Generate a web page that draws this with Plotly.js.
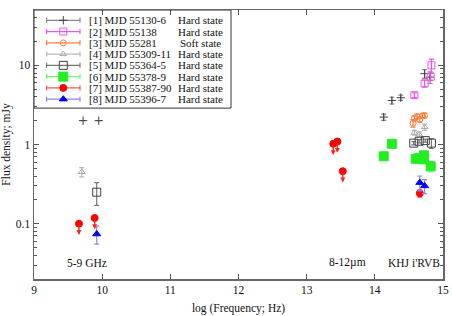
<!DOCTYPE html>
<html><head><meta charset="utf-8">
<script src="https://cdn.plot.ly/plotly-3.0.1.min.js"></script>
<style>html,body{margin:0;padding:0;background:#fff}#chart{width:452px;height:316px}</style>
</head><body><div id="chart"></div>
<script>
// ---- data (log frequency, flux density mJy, error) ----
const names = ["[1] MJD 55130-6","[2] MJD 55138","[3] MJD 55281","[4] MJD 55309-11","[5] MJD 55364-5","[6] MJD 55378-9","[7] MJD 55387-90","[8] MJD 55396-7"];
const states = ["Hard state","Hard state","Soft state","Hard state","Hard state","Hard state","Hard state","Hard state"];

const s1x = [9.72, 9.95, 14.13, 14.25, 14.38, 14.73, 14.81];
const s1y = [2.0, 2.0, 2.22, 3.6, 3.9, 7.85, 7.1];
const s1e = [0, 0, 0.2, 0.35, 0.3, 1.0, 1.2];

const s2x = [14.58, 14.73, 14.82, 14.83];
const s2y = [4.2, 5.9, 7.2, 10.0];
const s2e = [0.3, 0.6, 0.8, 2.0];

const s3x = [14.56, 14.58, 14.62, 14.66, 14.70, 14.73];
const s3y = [1.86, 2.14, 2.26, 2.07, 2.30, 2.33];
const s3e = [0.2, 0.15, 0.15, 0.15, 0.15, 0.15];

const s4x = [9.70, 14.58, 14.65, 14.73];
const s4y = [0.45, 1.41, 1.34, 1.66];
const s4e = [0.06, 0.1, 0.1, 0.15];

const s5x = [9.92, 14.57, 14.65, 14.74, 14.83];
const s5y = [0.25, 1.04, 1.10, 1.12, 1.04];
const s5e = [0.08, 0.05, 0.05, 0.05, 0.15];

const s6x = [14.13, 14.25, 14.60, 14.65, 14.72, 14.72, 14.82];
const s6y = [0.71, 1.02, 0.66, 0.67, 0.73, 0.65, 0.53];
const s6e = [0.04, 0.03, 0.03, 0.03, 0.04, 0.04, 0.08];

const s7x = [9.66, 9.89, 13.39, 13.45, 13.53, 14.66];
const s7y = [0.10, 0.118, 1.02, 1.09, 0.46, 0.242];
const s7e = [0, 0, 0, 0, 0, 0.025];
const s7ul = [1, 1, 1, 1, 1, 0];   // upper limits (arrows)

const s8x = [9.92, 14.66, 14.73];
const s8y = [0.074, 0.33, 0.30];
const s8e = [0.019, 0.07, 0.06];

const bandLabels = ["5-9 GHz", "8-12\u00b5m", "KHJ i'RVB"];
const bandX = [9.78, 13.6, 14.58];
const bandY = [0.032, 0.032, 0.032];

// ---- styles ----
const styles = [
  {sym:"cross-thin-open", size:6, color:"#404040", ecol:"#888888", lw:1},
  {sym:"square-open", size:7, color:"#ee55ee", ecol:"#ee55ee", lw:1},
  {sym:"circle-open", size:6, color:"#ff7f3f", ecol:"#ff7f3f", lw:1},
  {sym:"triangle-up-open", size:6, color:"#aaaaaa", ecol:"#bbbbbb", lw:1},
  {sym:"square-open", size:8, color:"#404040", ecol:"#777777", lw:1},
  {sym:"square", size:9, color:"#22ee22", ecol:"#66ff66", lw:0},
  {sym:"circle", size:7, color:"#ff0000", ecol:"#ff5555", lw:0},
  {sym:"triangle-up", size:7, color:"#0000ff", ecol:"#8888ff", lw:0}
];
const series = [[s1x,s1y,s1e],[s2x,s2y,s2e],[s3x,s3y,s3e],[s4x,s4y,s4e],[s5x,s5y,s5e],[s6x,s6y,s6e],[s7x,s7y,s7e],[s8x,s8y,s8e]];

const traces = series.map((s,i)=>({
  x:s[0], y:s[1], type:"scatter", mode:"markers", showlegend:false,
  marker:{symbol:styles[i].sym, size:styles[i].size, color:styles[i].color,
          line:{color:styles[i].color, width:styles[i].lw||1}},
  error_y:{type:"data", array:s[2], visible:true, color:styles[i].ecol, thickness:1.2, width:2.5}
}));

// legend drawn on pixel-like overlay axes
const legRow0 = 20.3, legStep = 11.25;
names.forEach((n,i)=>{
  traces.push({x:[63.3], y:[legRow0+i*legStep], xaxis:"x2", yaxis:"y2", type:"scatter", mode:"markers",
    showlegend:false, hoverinfo:"skip",
    marker:{symbol:styles[i].sym, size:styles[i].size, color:styles[i].color, line:{color:styles[i].color, width:styles[i].lw||1}},
    error_x:{type:"constant", value:16.7, visible:true, color:styles[i].ecol, thickness:1.2, width:2.5}});
});

const legFont = {family:"Liberation Serif, Times New Roman, serif", size:11, color:"#111"};
const annotations = [];
names.forEach((n,i)=>{
  annotations.push({xref:"x2", yref:"y2", x:87, y:legRow0+i*legStep, text:n, showarrow:false, xanchor:"left", yanchor:"middle", font:legFont});
  annotations.push({xref:"x2", yref:"y2", x:i===2?178:176, y:legRow0+i*legStep, text:states[i], showarrow:false, xanchor:"left", yanchor:"middle", font:legFont});
});
bandLabels.forEach((t,i)=>{
  annotations.push({xref:"x", yref:"y", x:bandX[i], y:Math.log10(bandY[i]), text:t, showarrow:false, xanchor:"center", yanchor:"middle"});
});
s7x.forEach((x,i)=>{
  if(s7ul[i]) annotations.push({xref:"x", yref:"y", axref:"x", ayref:"y", x:x, y:Math.log10(s7y[i]*0.72), ax:x, ay:Math.log10(s7y[i]),
    showarrow:true, arrowhead:2, arrowsize:0.7, arrowwidth:1.4, arrowcolor:"#ff2222", text:""});
});

const majors = [0.1, 1, 10];
const minors = [];
[0.01,0.1,1,10].forEach(d=>{for(let k=2;k<=9;k++){const v=k*d; if(v>=0.02&&v<=50) minors.push(v);}});

const font = {family:"Liberation Serif, Times New Roman, serif", size:11.5, color:"#111"};
const layout = {
  width:452, height:316, margin:{l:34, r:9, t:10, b:37},
  paper_bgcolor:"#fff", plot_bgcolor:"#fff", font:font, showlegend:false,
  xaxis:{range:[9,15], tickvals:[9,10,11,12,13,14,15], ticks:"inside", ticklen:5, tickcolor:"#555",
    showline:true, linecolor:"#666", linewidth:1.5, mirror:"allticks", showgrid:false, zeroline:false,
    title:{text:"log (Frequency; Hz)", font:font, standoff:8}},
  yaxis:{type:"log", range:[Math.log10(0.02), Math.log10(50)], tickvals:majors, ticktext:["0.1","1","10"],
    ticks:"inside", ticklen:5, tickcolor:"#555", showline:true, linecolor:"#666", linewidth:1.5, mirror:"allticks",
    showgrid:false, zeroline:false,
    minor:{tickvals:minors, ticks:"inside", ticklen:3, tickcolor:"#555", showgrid:false},
    title:{text:"Flux density; mJy", font:font, standoff:4}},
  xaxis2:{range:[34,443], overlaying:"x", visible:false, fixedrange:true},
  yaxis2:{range:[278.7,10], overlaying:"y", visible:false, fixedrange:true},
  shapes:[{type:"rect", xref:"x2", yref:"y2", x0:34, x1:231, y0:10, y1:108, line:{color:"#333", width:1}}],
  annotations:annotations
};
Plotly.newPlot("chart", traces, layout, {displayModeBar:false, staticPlot:true});
</script></body></html>
